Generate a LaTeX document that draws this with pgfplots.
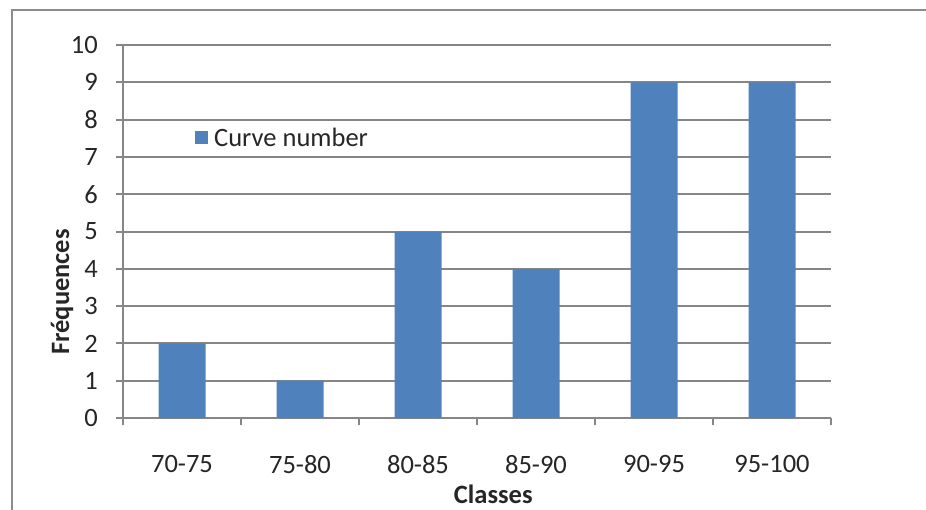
\documentclass[border=0pt]{standalone}
\usepackage{pgfplots}
\pgfplotsset{compat=1.18}
\usepackage{fontspec}
\setmainfont{Carlito}
\definecolor{barblue}{HTML}{4F81BD}
\definecolor{framegray}{HTML}{8C8C8C}
\definecolor{axgray}{HTML}{868686}
\definecolor{txt}{HTML}{262626}

\pgfplotstableread{
x  freq
0  2
1  1
2  5
3  4
4  9
5  9
}\freqtable

\begin{document}
\begin{tikzpicture}[font=\fontsize{26.5}{31}\selectfont, text=txt]
\path[use as bounding box] (0pt,0pt) rectangle (926pt,509pt);
\clip (0pt,0pt) rectangle (926pt,509pt);
% chart frame
\draw[framegray, line width=2.5pt] (12pt,-20pt) -- (12pt,499pt) -- (950pt,499pt);
\begin{axis}[
  at={(123pt,91pt)}, anchor=south west,
  scale only axis, width=708pt, height=373pt,
  xmin=-0.5, xmax=5.5, ymin=0, ymax=10,
  axis x line*=bottom, axis y line*=left,
  axis line style={axgray, line width=2pt},
  ytick={0,...,10},
  ymajorgrids, grid style={axgray, line width=2pt},
  xtick={0,...,5},
  xticklabels={70-75,75-80,80-85,85-90,90-95,95-100},
  xtick style={draw=none},
  extra x ticks={-0.5,0.5,1.5,2.5,3.5,4.5,5.5},
  extra x tick labels={},
  extra x tick style={xtick style={axgray, line width=2pt, draw=axgray}, grid=none},
  tick align=outside, major tick length=7pt,
  ytick style={axgray, line width=2pt},
  /pgf/number format/assume math mode=true,
  yticklabel style={inner sep=0pt, anchor=east},
  yticklabel shift=18pt,
  xticklabel style={inner sep=0pt, anchor=north},
  xticklabel shift=30pt,
  xlabel={\bfseries Classes},
  ylabel={\bfseries Fréquences},
  xlabel style={at={(axis description cs:0.523,-0.204)}, anchor=center, inner sep=0pt},
  ylabel style={at={(axis description cs:-0.0862,0.338)}, anchor=center, rotate=0, inner sep=0pt},
  legend style={at={(axis description cs:0.1017,0.7507)}, anchor=west, draw=none, fill=none, inner sep=0pt, font=\fontsize{26.5}{31}\selectfont},
  legend image code/.code={\fill[barblue] (0pt,-6.5pt) rectangle (13pt,6.5pt); \path (17pt,0pt);},
]
\addplot[ybar, bar width=47pt, fill=barblue, draw=none] table[x=x, y=freq] {\freqtable};
\addlegendentry{Curve number}
\end{axis}
\end{tikzpicture}
\end{document}
